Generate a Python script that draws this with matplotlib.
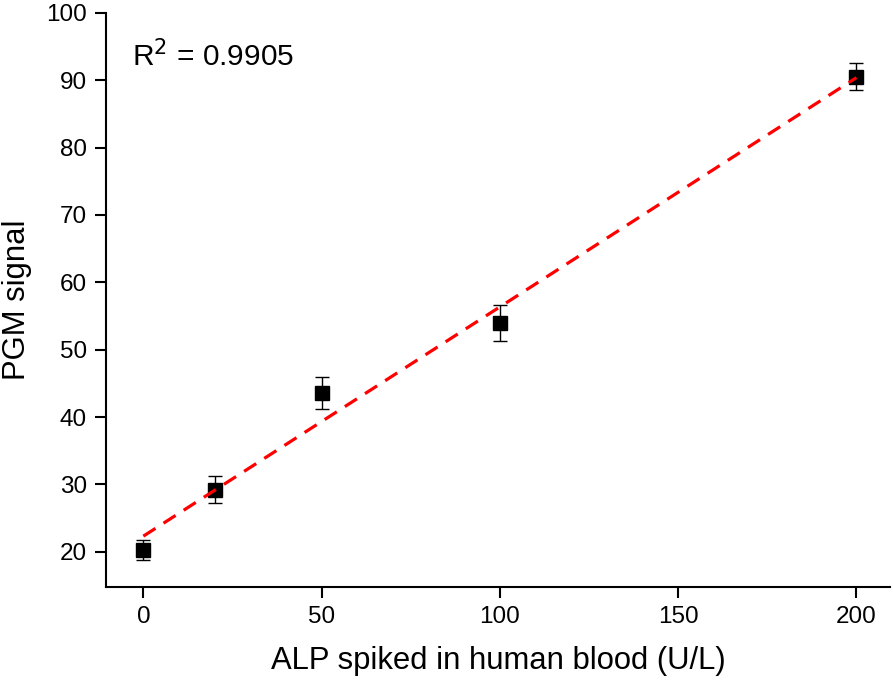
import matplotlib
matplotlib.use('Agg')
import matplotlib.pyplot as plt
import numpy as np

plt.rcParams['font.family'] = ['Liberation Sans', 'DejaVu Sans']

# ALP spiked (U/L) vs PGM signal
alp = [0, 20, 50, 100, 200]
signal = [20.2, 29.2, 43.6, 54.0, 90.5]
err = [1.5, 2.0, 2.4, 2.7, 2.0]

slope, intercept = np.polyfit(alp, signal, 1)
xfit = np.array([0, 200])

fig = plt.figure(figsize=(8.93, 6.83), dpi=100)
ax = fig.add_axes([0.119, 0.141, 0.878, 0.840])

ax.plot(xfit, slope * xfit + intercept, color='red', lw=2.3, ls=(0, (4.5, 3)), zorder=3)
ax.errorbar(alp, signal, yerr=err, fmt='s', color='black', ms=9.5,
            ecolor='black', elinewidth=1, capsize=5, capthick=1, zorder=2)

ax.set_xlim(-10.4, 209.5)
ax.set_ylim(14.8, 100)
ax.set_xticks([0, 50, 100, 150, 200])
ax.set_yticks(range(20, 101, 10))
ax.spines['top'].set_visible(False)
ax.spines['right'].set_visible(False)
ax.spines['left'].set_linewidth(1.5)
ax.spines['bottom'].set_linewidth(1.5)
ax.tick_params(direction='out', length=8, width=1.5, labelsize=17.5, pad=6)

ax.set_xlabel('ALP spiked in human blood (U/L)', fontsize=22.3, labelpad=13)
ax.set_ylabel('PGM signal', fontsize=22.3, labelpad=10)
ax.text(0.033, 0.925, r'R$^2$ = 0.9905', transform=ax.transAxes, fontsize=21.5,
        va='center', ha='left')

fig.savefig('out.png', dpi=100)
